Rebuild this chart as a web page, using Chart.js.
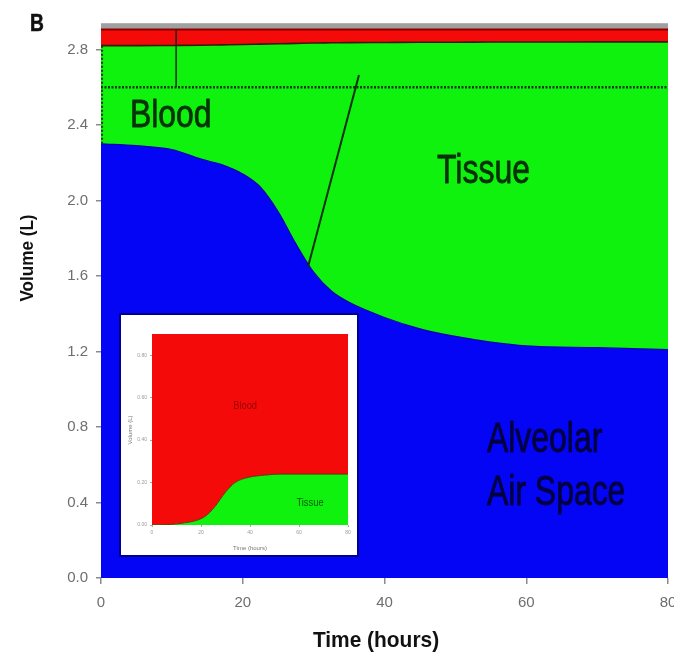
<!DOCTYPE html>
<html>
<head>
<meta charset="utf-8">
<script src="https://cdn.jsdelivr.net/npm/chart.js@4.4.1/dist/chart.umd.min.js"></script>
<style>
  html, body { margin: 0; padding: 0; background: #ffffff; }
  #wrap { position: relative; width: 674px; height: 662px; overflow: hidden; }
  #main { position: absolute; left: 0; top: 0; }
  #inset { position: absolute; left: 121px; top: 315px; background: #ffffff; box-shadow: 0 0 0 2px #00008e; }
</style>
</head>
<body>
<div id="wrap">
  <canvas id="main" width="674" height="662"></canvas>
  <canvas id="inset" width="236" height="240"></canvas>
</div>
<script>
// ---- main panel: stacked lung compartment volumes (L) over time (h) ----
const times     = [0, 5, 10, 14, 17, 20, 22.5, 25, 27.5, 30, 32.5, 35, 40, 45, 50, 55, 60, 70, 80];
const airSpace  = [2.30, 2.29, 2.27, 2.22, 2.19, 2.14, 2.07, 1.94, 1.77, 1.62, 1.52, 1.46, 1.38, 1.32, 1.28, 1.25, 1.23, 1.22, 1.21];
const tissueTop = [2.820, 2.820, 2.821, 2.822, 2.824, 2.826, 2.828, 2.830, 2.832, 2.834, 2.835, 2.836, 2.837, 2.838, 2.838, 2.839, 2.839, 2.840, 2.840];
const bloodTop  = [2.905, 2.905, 2.905, 2.905, 2.905, 2.905, 2.905, 2.905, 2.905, 2.905, 2.905, 2.905, 2.905, 2.905, 2.905, 2.905, 2.905, 2.905, 2.905];
const frameTop  = [2.94, 2.94, 2.94, 2.94, 2.94, 2.94, 2.94, 2.94, 2.94, 2.94, 2.94, 2.94, 2.94, 2.94, 2.94, 2.94, 2.94, 2.94, 2.94];

// reference and pointer lines
const dottedLevel  = [{x: 0, y: 2.60}, {x: 80, y: 2.60}];
const leftEdgeDots = [{x: 0.15, y: 2.30}, {x: 0.15, y: 2.82}];
const markerLine   = [{x: 10.6, y: 2.60}, {x: 10.6, y: 2.905}];
const pointerLine  = [{x: 36.4, y: 2.665}, {x: 29.2, y: 1.648}];

const yTicks = [0, 0.4, 0.8, 1.2, 1.6, 2.0, 2.4, 2.8];
const xTicks = [0, 20, 40, 60, 80];

// ---- inset: blood vs tissue split ----
const insetTimes  = [0, 12, 21.6, 25.7, 29.8, 33.9, 39.2, 46, 52.7, 60, 80];
const insetTissue = [0, 0.008, 0.04, 0.087, 0.152, 0.20, 0.224, 0.235, 0.24, 0.24, 0.24];
const insetBlood  = [0.9, 0.9, 0.9, 0.9, 0.9, 0.9, 0.9, 0.9, 0.9, 0.9, 0.9];
const insetYTicks = [0, 0.2, 0.4, 0.6, 0.8];
const insetXTicks = [0, 20, 40, 60, 80];

const FONT = "'Liberation Sans Narrow', 'Liberation Sans', Arial, sans-serif";
const FONT_W = "'Liberation Sans', Arial, sans-serif";

const pts = (xs, ys) => xs.map((t, i) => ({x: t, y: ys[i]}));

// draws free text, either in data units (t, v) or pixels (px, py)
const textPlugin = {
  id: 'textLabels',
  afterDraw(chart, args, opts) {
    const {ctx, scales} = chart;
    (opts.items || []).forEach(it => {
      ctx.save();
      ctx.font = `${it.weight || 'normal'} ${it.size}px ${it.family || FONT_W}`;
      ctx.fillStyle = it.color;
      ctx.textAlign = it.align || 'left';
      ctx.textBaseline = it.baseline || 'alphabetic';
      const px = it.t !== undefined ? scales.x.getPixelForValue(it.t) : it.px;
      const py = it.v !== undefined ? scales.y.getPixelForValue(it.v) : it.py;
      ctx.translate(px, py);
      if (it.rotate) ctx.rotate(it.rotate);
      ctx.scale(it.sx || 1, 1);
      ctx.fillText(it.text, 0, 0);
      if (it.stroke) {
        ctx.strokeStyle = it.color;
        ctx.lineWidth = it.stroke;
        ctx.lineJoin = 'round';
        ctx.strokeText(it.text, 0, 0);
      }
      ctx.restore();
    });
  }
};

// filled bands are drawn first (higher order), the thin lines on top
const area = (data, bg, border, fill, bw) => ({
  data, backgroundColor: bg, borderColor: border, borderWidth: bw, fill, order: 2,
  pointRadius: 0, cubicInterpolationMode: 'monotone', tension: 0.4
});
const line = (data, color, width, dash) => ({
  data, borderColor: color, borderWidth: width, borderDash: dash || [], order: 1,
  fill: false, pointRadius: 0, tension: 0
});

new Chart(document.getElementById('main'), {
  type: 'line',
  data: {
    datasets: [
      area(pts(times, airSpace), '#0505f5', '#0000b0', 'origin', 1.2),
      area(pts(times, tissueTop), '#0ef20e', '#3a1a00', '-1', 1.6),
      area(pts(times, bloodTop), '#f50a0a', '#8a0000', '-1', 2),
      area(pts(times, frameTop), '#a0a0a0', '#c8c8c8', '-1', 1),
      line(dottedLevel, '#103a10', 2.4, [2, 1.5]),
      line(leftEdgeDots, '#104010', 2, [2, 2]),
      line(markerLine, '#1a2a1a', 1.5),
      line(pointerLine, '#0e300e', 2)
    ]
  },
  options: {
    responsive: false,
    devicePixelRatio: 1,
    animation: false,
    layout: { padding: { top: 23, right: 6, left: 0, bottom: 0 } },
    plugins: {
      legend: { display: false },
      tooltip: { enabled: false },
      textLabels: {
        items: [
          { text: 'Blood', t: 4.09, v: 2.389, size: 38, sx: 0.84, stroke: 0.8, color: '#0a320a' },
          { text: 'Tissue', t: 47.4, v: 2.093, size: 40, sx: 0.8, stroke: 0.8, color: '#0a320a' },
          { text: 'Alveolar', t: 54.46, v: 0.668, size: 42, sx: 0.76, stroke: 0.8, color: '#000040' },
          { text: 'Air Space', t: 54.46, v: 0.387, size: 42, sx: 0.76, stroke: 0.8, color: '#000040' },
          { text: 'B', px: 30, py: 31, size: 24, weight: 'bold', sx: 0.8, stroke: 0.6, color: '#111111' },
          { text: 'Time (hours)', px: 376, py: 641, size: 22, weight: 'bold', align: 'center', baseline: 'middle', sx: 0.95, color: '#111111' },
          { text: 'Volume (L)', px: 28, py: 258, size: 19, weight: 'bold', align: 'center', baseline: 'middle', rotate: -Math.PI / 2, sx: 0.9, color: '#111111' }
        ]
      }
    },
    scales: {
      x: {
        type: 'linear', min: 0, max: 80,
        afterBuildTicks: s => { s.ticks = xTicks.map(v => ({value: v})); },
        afterFit: s => { s.height = 84; s.paddingLeft = 0; s.paddingRight = 0; },
        grid: { drawOnChartArea: false, drawTicks: true, tickLength: 6, color: '#8a8a8a', lineWidth: 1.5 },
        border: { display: false },
        ticks: { color: '#6e6e6e', font: { family: FONT, size: 15 }, padding: 10, maxRotation: 0, autoSkip: false,
                 callback: v => String(v) }
      },
      y: {
        type: 'linear', min: 0, max: 2.94,
        afterBuildTicks: s => { s.ticks = yTicks.map(v => ({value: v})); },
        afterFit: s => { s.width = 101; s.paddingTop = 0; s.paddingBottom = 0; },
        grid: { drawOnChartArea: false, drawTicks: true, tickLength: 5, color: '#8a8a8a', lineWidth: 1.5 },
        border: { display: false },
        ticks: { color: '#6e6e6e', font: { family: FONT, size: 15 }, padding: 8, autoSkip: false,
                 callback: v => Number(v).toFixed(1) }
      }
    }
  },
  plugins: [textPlugin]
});

new Chart(document.getElementById('inset'), {
  type: 'line',
  data: {
    datasets: [
      area(pts(insetTimes, insetTissue), '#0ef20e', '#6a3000', 'origin', 1),
      area(pts(insetTimes, insetBlood), '#f50a0a', '#f50a0a', '-1', 0)
    ]
  },
  options: {
    responsive: false,
    devicePixelRatio: 1,
    animation: false,
    layout: { padding: { top: 19, right: 9, left: 0, bottom: 0 } },
    plugins: {
      legend: { display: false },
      tooltip: { enabled: false },
      textLabels: {
        items: [
          { text: 'Blood', t: 38, v: 0.56, size: 11, sx: 0.85, align: 'center', baseline: 'middle', color: '#9a0000' },
          { text: 'Tissue', t: 64.5, v: 0.105, size: 11, sx: 0.85, align: 'center', baseline: 'middle', color: '#005a00' },
          { text: 'Time (hours)', px: 129, py: 233, size: 6, align: 'center', baseline: 'middle', color: '#777777' },
          { text: 'Volume (L)', px: 9, py: 115, size: 6, align: 'center', baseline: 'middle', rotate: -Math.PI / 2, color: '#777777' }
        ]
      }
    },
    scales: {
      x: {
        type: 'linear', min: 0, max: 80,
        afterBuildTicks: s => { s.ticks = insetXTicks.map(v => ({value: v})); },
        afterFit: s => { s.height = 30; s.paddingLeft = 0; s.paddingRight = 0; },
        grid: { drawOnChartArea: false, drawTicks: true, tickLength: 2, color: '#aaaaaa' },
        border: { display: false },
        ticks: { color: '#999999', font: { family: FONT_W, size: 5 }, padding: 3, maxRotation: 0, autoSkip: false,
                 callback: v => String(v) }
      },
      y: {
        type: 'linear', min: 0, max: 0.9,
        afterBuildTicks: s => { s.ticks = insetYTicks.map(v => ({value: v})); },
        afterFit: s => { s.width = 31; s.paddingTop = 0; s.paddingBottom = 0; },
        grid: { drawOnChartArea: false, drawTicks: true, tickLength: 2, color: '#aaaaaa' },
        border: { display: false },
        ticks: { color: '#999999', font: { family: FONT_W, size: 5 }, padding: 3, autoSkip: false,
                 callback: v => Number(v).toFixed(2) }
      }
    }
  },
  plugins: [textPlugin]
});
</script>
</body>
</html>
